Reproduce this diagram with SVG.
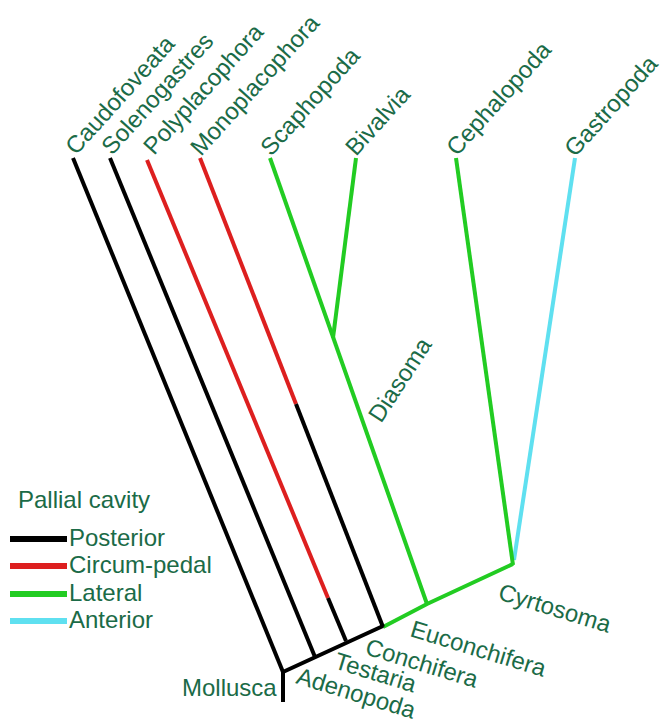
<svg xmlns="http://www.w3.org/2000/svg" width="662" height="724" viewBox="0 0 662 724">
<style>
.t{font-family:"Liberation Sans",Arial,sans-serif;font-size:24px;fill:#1b6b47}
.k{stroke:#000;stroke-width:4;fill:none;stroke-linecap:butt}
.r{stroke:#dd1f1f;stroke-width:4;fill:none}
.g{stroke:#22cc22;stroke-width:4;fill:none}
.c{stroke:#5fe0f0;stroke-width:4;fill:none}
.lg{stroke-width:6}
</style>
<rect width="662" height="724" fill="#fff"/>
<g id="connectors">
<line class="c" x1="575" y1="158" x2="514" y2="560"/>
<line class="g" x1="456" y1="158" x2="513" y2="565"/>
<polyline class="g" points="383,627 427,604 513,564"/>
<line class="g" x1="270" y1="158" x2="427" y2="604"/>
<line class="g" x1="356" y1="158" x2="333" y2="338"/>
<line class="r" x1="200" y1="158" x2="296" y2="404"/>
<line class="k" x1="296" y1="404" x2="383" y2="627"/>
<line class="r" x1="147" y1="160" x2="328" y2="598"/>
<line class="k" x1="328" y1="598" x2="346" y2="641"/>
<line class="k" x1="110" y1="158" x2="315" y2="657"/>
<line class="k" x1="73" y1="158" x2="283" y2="672"/>
<polyline class="k" points="283,702 283,672 383,626"/>
</g>
<g id="n-caudofoveata"><text class="t" transform="translate(76,156) rotate(-48)">Caudofoveata</text></g>
<g id="n-solenogastres"><text class="t" transform="translate(112,156) rotate(-48)">Solenogastres</text></g>
<g id="n-polyplacophora"><text class="t" transform="translate(154,156) rotate(-48)">Polyplacophora</text></g>
<g id="n-monoplacophora"><text class="t" transform="translate(201,157) rotate(-48)">Monoplacophora</text></g>
<g id="n-scaphopoda"><text class="t" transform="translate(271,157) rotate(-48)">Scaphopoda</text></g>
<g id="n-bivalvia"><text class="t" transform="translate(356,157) rotate(-48)">Bivalvia</text></g>
<g id="n-cephalopoda"><text class="t" transform="translate(457,157) rotate(-48)">Cephalopoda</text></g>
<g id="n-gastropoda"><text class="t" transform="translate(575,158) rotate(-48)">Gastropoda</text></g>
<g id="n-diasoma"><text class="t" transform="translate(381,424) rotate(-57)">Diasoma</text></g>
<g id="n-mollusca"><text class="t" x="182" y="696">Mollusca</text></g>
<g id="n-adenopoda"><text class="t" transform="translate(295,683) rotate(17)">Adenopoda</text></g>
<g id="n-testaria"><text class="t" transform="translate(333,668) rotate(17)">Testaria</text></g>
<g id="n-conchifera"><text class="t" transform="translate(364,654) rotate(17)">Conchifera</text></g>
<g id="n-euconchifera"><text class="t" transform="translate(409,636) rotate(17)">Euconchifera</text></g>
<g id="n-cyrtosoma"><text class="t" transform="translate(497,599) rotate(17)">Cyrtosoma</text></g>
<g id="legend">
<text class="t" x="18" y="508">Pallial cavity</text>
<line class="k lg" x1="10" y1="539" x2="67" y2="539"/>
<text class="t" x="69" y="546">Posterior</text>
<line class="r lg" x1="10" y1="566" x2="67" y2="566"/>
<text class="t" x="69" y="573">Circum-pedal</text>
<line class="g lg" x1="10" y1="594" x2="67" y2="594"/>
<text class="t" x="69" y="601">Lateral</text>
<line class="c lg" x1="10" y1="621" x2="67" y2="621"/>
<text class="t" x="69" y="628">Anterior</text>
</g>
</svg>
